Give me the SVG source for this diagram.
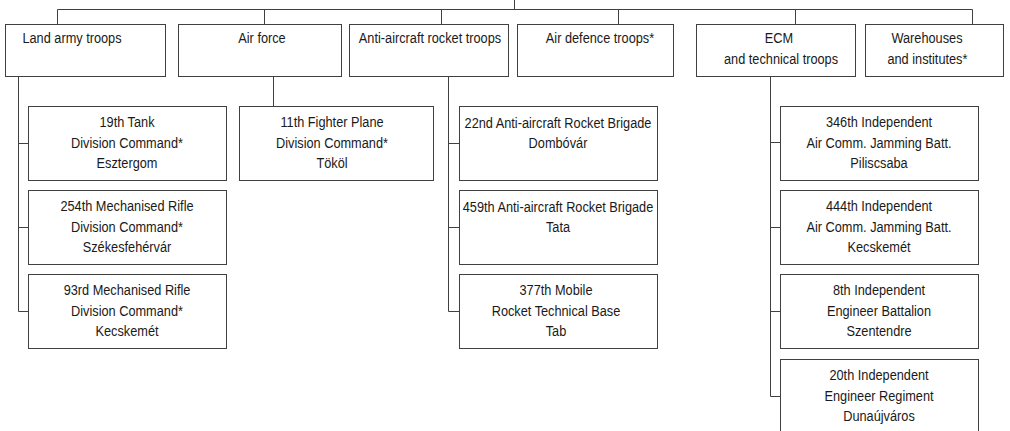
<svg xmlns="http://www.w3.org/2000/svg" width="1010" height="431" viewBox="0 0 1010 431">
<style>
rect{fill:#fff;stroke:#404040;stroke-width:1}
.c line{stroke:#404040;stroke-width:1;fill:none}
text{font-family:"Liberation Sans","Arial",sans-serif;font-size:15px;fill:#1a1a1a;text-anchor:middle}
</style>
<rect x="0" y="0" width="1010" height="431" style="stroke:none"/>
<g class="c" id="connectors">
<line x1="514.5" y1="0" x2="514.5" y2="9.5"/>
<line x1="57.5" y1="9.5" x2="972.5" y2="9.5"/>
<line x1="57.5" y1="9.5" x2="57.5" y2="24"/>
<line x1="264.5" y1="9.5" x2="264.5" y2="24"/>
<line x1="441.5" y1="9.5" x2="441.5" y2="24"/>
<line x1="618.5" y1="9.5" x2="618.5" y2="24"/>
<line x1="795.5" y1="9.5" x2="795.5" y2="24"/>
<line x1="972.5" y1="9.5" x2="972.5" y2="24"/>
<line x1="18.5" y1="77" x2="18.5" y2="311.5"/>
<line x1="18.5" y1="143.5" x2="28" y2="143.5"/>
<line x1="18.5" y1="227.5" x2="28" y2="227.5"/>
<line x1="18.5" y1="311.5" x2="28" y2="311.5"/>
<line x1="273.5" y1="77" x2="273.5" y2="106"/>
<line x1="448.5" y1="77" x2="448.5" y2="311.5"/>
<line x1="448.5" y1="143.5" x2="459" y2="143.5"/>
<line x1="448.5" y1="227.5" x2="459" y2="227.5"/>
<line x1="448.5" y1="311.5" x2="459" y2="311.5"/>
<line x1="770.5" y1="77" x2="770.5" y2="396.5"/>
<line x1="770.5" y1="142.5" x2="780" y2="142.5"/>
<line x1="770.5" y1="227.5" x2="780" y2="227.5"/>
<line x1="770.5" y1="311.5" x2="780" y2="311.5"/>
<line x1="770.5" y1="396.5" x2="780" y2="396.5"/>
</g>
<g id="land"><rect x="5.5" y="24.5" width="160" height="52"/><g transform="translate(72 0) scale(0.85 1)"><text x="0" y="43">Land army troops</text></g></g>
<g id="airforce"><rect x="178.5" y="24.5" width="163" height="52"/><g transform="translate(262 0) scale(0.85 1)"><text x="0" y="43">Air force</text></g></g>
<g id="antiaircraft"><rect x="349.5" y="24.5" width="159" height="52"/><g transform="translate(430 0) scale(0.85 1)"><text x="0" y="43">Anti-aircraft rocket troops</text></g></g>
<g id="airdefence"><rect x="517.5" y="24.5" width="156" height="52"/><g transform="translate(600 0) scale(0.85 1)"><text x="0" y="43">Air defence troops*</text></g></g>
<g id="ecm"><rect x="696.5" y="24.5" width="159" height="52"/><g transform="translate(780 0) scale(0.85 1)"><text x="-1.2" y="43">ECM</text><text x="1.2" y="64">and technical troops</text></g></g>
<g id="warehouses"><rect x="865.5" y="24.5" width="138" height="52"/><g transform="translate(927 0) scale(0.85 1)"><text x="0" y="43">Warehouses</text><text x="0.5" y="64">and institutes*</text></g></g>

<g id="tank19"><rect x="28.5" y="106.5" width="198" height="74"/><g transform="translate(127 0) scale(0.85 1)"><text x="0" y="127">19th Tank</text><text x="0" y="148">Division Command*</text><text x="0" y="168">Esztergom</text></g></g>
<g id="rifle254"><rect x="28.5" y="190.5" width="198" height="74"/><g transform="translate(127 0) scale(0.85 1)"><text x="0" y="211.5">254th Mechanised Rifle</text><text x="0" y="232.5">Division Command*</text><text x="0" y="252.5">Székesfehérvár</text></g></g>
<g id="rifle93"><rect x="28.5" y="274.5" width="198" height="74"/><g transform="translate(127 0) scale(0.85 1)"><text x="0" y="295.5">93rd Mechanised Rifle</text><text x="0" y="316.5">Division Command*</text><text x="0" y="336.5">Kecskemét</text></g></g>

<g id="fighter11"><rect x="239.5" y="106.5" width="194" height="74"/><g transform="translate(332 0) scale(0.85 1)"><text x="0" y="127">11th Fighter Plane</text><text x="0" y="148">Division Command*</text><text x="0" y="168">Tököl</text></g></g>

<g id="brigade22"><rect x="459.5" y="106.5" width="198" height="74"/><g transform="translate(558 0) scale(0.85 1)"><text x="0" y="128">22nd Anti-aircraft Rocket Brigade</text><text x="0" y="148">Dombóvár</text></g></g>
<g id="brigade459"><rect x="459.5" y="190.5" width="198" height="74"/><g transform="translate(558 0) scale(0.85 1)"><text x="0" y="212">459th Anti-aircraft Rocket Brigade</text><text x="0" y="232">Tata</text></g></g>
<g id="base377"><rect x="459.5" y="274.5" width="198" height="74"/><g transform="translate(556 0) scale(0.85 1)"><text x="0" y="295.5">377th Mobile</text><text x="0" y="316.5">Rocket Technical Base</text><text x="0" y="336.5">Tab</text></g></g>

<g id="jam346"><rect x="780.5" y="106.5" width="198" height="74"/><g transform="translate(879 0) scale(0.85 1)"><text x="0" y="127">346th Independent</text><text x="0" y="148">Air Comm. Jamming Batt.</text><text x="0" y="168">Piliscsaba</text></g></g>
<g id="jam444"><rect x="780.5" y="190.5" width="198" height="74"/><g transform="translate(879 0) scale(0.85 1)"><text x="0" y="211.5">444th Independent</text><text x="0" y="232.5">Air Comm. Jamming Batt.</text><text x="0" y="252.5">Kecskemét</text></g></g>
<g id="eng8"><rect x="780.5" y="274.5" width="198" height="74"/><g transform="translate(879 0) scale(0.85 1)"><text x="0" y="295.5">8th Independent</text><text x="0" y="316.5">Engineer Battalion</text><text x="0" y="336.5">Szentendre</text></g></g>
<g id="eng20"><rect x="780.5" y="359.5" width="198" height="74"/><g transform="translate(879 0) scale(0.85 1)"><text x="0" y="380.5">20th Independent</text><text x="0" y="401.5">Engineer Regiment</text><text x="0" y="421.5">Dunaújváros</text></g></g>
</svg>
